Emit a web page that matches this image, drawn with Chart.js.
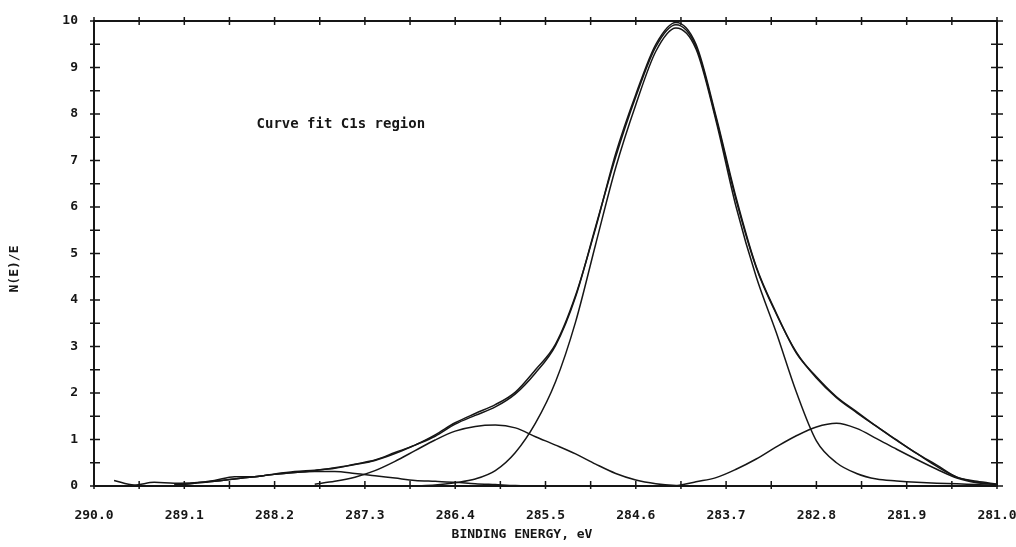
<!DOCTYPE html>
<html>
<head>
<meta charset="utf-8">
<script src="https://cdn.jsdelivr.net/npm/chart.js@4.4.1/dist/chart.umd.min.js"></script>
<style>
  html, body { margin: 0; padding: 0; background: #fff; }
</style>
</head>
<body>
<canvas id="c" width="1016" height="547"></canvas>
<script>
// binding energy grid, eV
const energy = [289.8, 289.6, 289.4, 289.2, 289.0, 288.8, 288.6, 288.4, 288.2, 288.0,
  287.8, 287.6, 287.4, 287.2, 287.0, 286.8, 286.6, 286.4, 286.2, 286.0,
  285.8, 285.6, 285.4, 285.2, 285.0, 284.8, 284.6, 284.4, 284.2, 284.0,
  283.8, 283.6, 283.4, 283.2, 283.0, 282.8, 282.6, 282.4, 282.2, 282.0,
  281.8, 281.6, 281.4, 281.2, 281.0];

// raw counts N(E)/E
const measured = [0.12, 0.02, 0.08, 0.06, 0.07, 0.12, 0.20, 0.20, 0.26, 0.31,
  0.34, 0.38, 0.47, 0.56, 0.72, 0.88, 1.10, 1.36, 1.56, 1.75,
  2.02, 2.50, 3.05, 4.10, 5.55, 7.15, 8.42, 9.50, 9.97, 9.50,
  7.95, 6.20, 4.72, 3.72, 2.86, 2.35, 1.92, 1.60, 1.28, 0.99,
  0.70, 0.45, 0.19, 0.10, 0.04];

// sum of fitted components
const envelope = [null, null, null, 0.02, 0.06, 0.10, 0.15, 0.20, 0.25, 0.29,
  0.33, 0.39, 0.46, 0.55, 0.70, 0.88, 1.07, 1.33, 1.52, 1.70,
  1.98, 2.43, 3.02, 4.07, 5.58, 7.08, 8.37, 9.45, 9.92, 9.45,
  7.90, 6.15, 4.70, 3.70, 2.88, 2.32, 1.90, 1.58, 1.28, 0.98,
  0.70, 0.42, 0.19, 0.08, 0.03];

// fitted components
const peakSmall = [null, null, null, 0.02, 0.06, 0.10, 0.15, 0.20, 0.25, 0.29,
  0.31, 0.31, 0.27, 0.22, 0.17, 0.12, 0.10, 0.08, 0.05, 0.03,
  0.01, 0.0, null, null, null, null, null, null, null, null,
  null, null, null, null, null, null, null, null, null, null,
  null, null, null, null, null];

const peakHigh = [null, null, null, null, null, null, null, null, null, null,
  0.04, 0.10, 0.19, 0.33, 0.53, 0.76, 0.99, 1.18, 1.28, 1.31,
  1.25, 1.06, 0.88, 0.69, 0.47, 0.27, 0.13, 0.05, 0.01, 0.0,
  null, null, null, null, null, null, null, null, null, null,
  null, null, null, null, null];

const peakMain = [null, null, null, null, null, null, null, null, null, null,
  null, null, null, null, null, 0.0, 0.02, 0.07, 0.15, 0.33,
  0.72, 1.35, 2.24, 3.53, 5.20, 6.85, 8.20, 9.35, 9.85, 9.40,
  7.85, 6.00, 4.50, 3.30, 2.02, 0.97, 0.50, 0.27, 0.15, 0.11,
  0.08, 0.06, 0.05, 0.03, 0.0];

const peakLow = [null, null, null, null, null, null, null, null, null, null,
  null, null, null, null, null, null, null, null, null, null,
  null, null, null, null, null, null, null, null, 0.0, 0.09,
  0.18, 0.36, 0.58, 0.84, 1.08, 1.27, 1.35, 1.24, 1.02, 0.79,
  0.57, 0.36, 0.17, 0.07, 0.03];

const note = 'Curve fit C1s region';
const noteAt = { x: 288.38, y: 7.78 };

const mono = 'DejaVu Sans Mono, monospace';
const ink = '#161616';

const series = [peakSmall, peakHigh, peakMain, peakLow, envelope, measured];

// plot frame with ticks crossing all four sides, plus the free text
const frameTicks = {
  id: 'frameTicks',
  afterDraw(chart) {
    const { ctx, chartArea: a, scales: { x, y } } = chart;
    ctx.save();
    ctx.strokeStyle = ink;
    ctx.lineWidth = 2;
    ctx.strokeRect(a.left, a.top, a.right - a.left, a.bottom - a.top);

    ctx.lineWidth = 1.5;
    ctx.beginPath();
    x.ticks.forEach(t => {
      const px = x.getPixelForValue(t.value);
      ctx.moveTo(px, a.bottom - 5); ctx.lineTo(px, a.bottom + 3);
      ctx.moveTo(px, a.top - 4); ctx.lineTo(px, a.top + 4);
    });
    y.ticks.forEach(t => {
      const py = y.getPixelForValue(t.value);
      ctx.moveTo(a.left - 4, py); ctx.lineTo(a.left + 6, py);
      ctx.moveTo(a.right - 6, py); ctx.lineTo(a.right + 6, py);
    });
    ctx.stroke();

    ctx.fillStyle = ink;
    ctx.font = 'bold 14px ' + mono;
    ctx.textBaseline = 'middle';
    ctx.textAlign = 'left';
    ctx.fillText(note, x.getPixelForValue(noteAt.x), y.getPixelForValue(noteAt.y));

    ctx.textAlign = 'center';
    ctx.font = 'bold 13px ' + mono;
    ctx.fillText('BINDING ENERGY, eV', a.left + 428, a.bottom + 49);

    ctx.translate(15, a.top + 248);
    ctx.rotate(-Math.PI / 2);
    ctx.fillText('N(E)/E', 0, 0);
    ctx.restore();
  }
};

new Chart(document.getElementById('c'), {
  type: 'line',
  data: {
    datasets: series.map(arr => ({
      data: energy.map((e, i) => ({ x: e, y: arr[i] })),
      borderColor: ink,
      borderWidth: 1.5,
      pointRadius: 0,
      fill: false,
      spanGaps: false,
      cubicInterpolationMode: 'monotone'
    }))
  },
  options: {
    responsive: false,
    animation: false,
    layout: { padding: { top: 21, right: 19, left: 0, bottom: 0 } },
    plugins: { legend: { display: false }, tooltip: { enabled: false } },
    scales: {
      x: {
        type: 'linear',
        reverse: true,
        min: 281,
        max: 290,
        grid: { display: false },
        border: { display: false },
        ticks: {
          stepSize: 0.45,
          autoSkip: false,
          maxRotation: 0,
          padding: 14,
          color: ink,
          font: { family: mono, size: 13, weight: 'bold' },
          callback: (v, i) => (i % 2 === 0 ? Number(v).toFixed(1) : '')
        },
        afterFit: s => { s.height = 61; s.paddingLeft = 0; s.paddingRight = 0; }
      },
      y: {
        min: 0,
        max: 10,
        grid: { display: false },
        border: { display: false },
        ticks: {
          stepSize: 0.5,
          autoSkip: false,
          padding: 8,
          color: ink,
          font: { family: mono, size: 13, weight: 'bold' },
          callback: v => (Number.isInteger(v) ? v : '')
        },
        afterFit: s => { s.width = 94; }
      }
    }
  },
  plugins: [frameTicks]
});
</script>
</body>
</html>
